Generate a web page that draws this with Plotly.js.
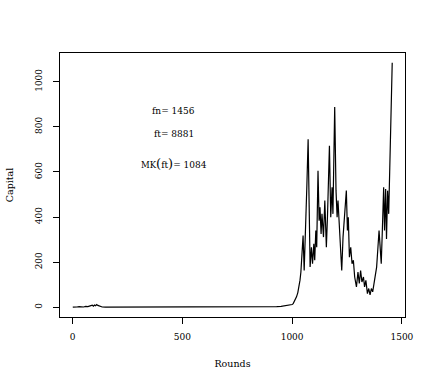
<!DOCTYPE html>
<html>
<head>
<meta charset="utf-8">
<script src="https://cdn.plot.ly/plotly-3.0.1.min.js"></script>
<style>html,body{margin:0;padding:0;background:#fff;}#chart{width:436px;height:382px;}</style>
</head>
<body>
<div id="chart"></div>
<script>
// Rounds (x) and Capital (y)
const rounds = [1, 10, 20, 30, 40, 50, 60, 70, 80, 90, 95, 100, 105, 110, 115, 120, 125, 135, 150, 200, 300, 400, 500, 600, 700, 800, 850, 900, 930, 950, 970, 985, 1000, 1005, 1012, 1020, 1026, 1031, 1036, 1040, 1046, 1050, 1055, 1061, 1067, 1073, 1077, 1082, 1088, 1093, 1099, 1103, 1108, 1112, 1118, 1123, 1127, 1132, 1136, 1143, 1149, 1156, 1161, 1164, 1170, 1176, 1182, 1186, 1194, 1200, 1205, 1209, 1215, 1220, 1226, 1232, 1238, 1247, 1252, 1256, 1261, 1267, 1273, 1279, 1285, 1293, 1300, 1306, 1312, 1318, 1325, 1330, 1336, 1343, 1349, 1355, 1361, 1367, 1373, 1379, 1385, 1391, 1396, 1400, 1406, 1411, 1417, 1421, 1426, 1430, 1435, 1440, 1444, 1449, 1453, 1456];
const capital = [0, 2, 1, 3, 2, 1, 4, 3, 6, 9, 5, 10, 7, 12, 8, 6, 3, 1, 0, 0, 0, 0, 0, 0, 0, 0, 1, 2, 3, 4, 6, 9, 12, 16, 28, 46, 65, 90, 120, 156, 266, 318, 163, 325, 532, 745, 384, 178, 266, 193, 281, 208, 340, 266, 605, 384, 443, 325, 414, 311, 473, 266, 400, 517, 716, 399, 532, 414, 888, 517, 399, 473, 340, 252, 163, 311, 399, 517, 340, 399, 222, 266, 193, 208, 134, 90, 156, 105, 163, 112, 134, 90, 119, 60, 83, 55, 83, 68, 105, 134, 178, 266, 340, 281, 193, 340, 532, 340, 524, 303, 517, 414, 561, 767, 950, 1084];

const xTicks = [0, 500, 1000, 1500];
const yTicks = [0, 200, 400, 600, 800, 1000];

const fnLabel = 'fn= 1456';
const ftLabel = 'ft= 8881';
const mkLabel = '<span style="font-size:8.5px">MK</span><span style="font-size:13px">(</span>ft<span style="font-size:13px">)</span>= 1084';
const labelX = 462;
const labelY = [870, 770, 638];

const font = 'DejaVu Serif';

const trace = {
  x: rounds, y: capital, type: 'scatter', mode: 'lines',
  line: {color: '#000', width: 1.2}, hoverinfo: 'skip'
};

const axisCommon = {
  showgrid: false, zeroline: false, showline: true, mirror: true,
  linecolor: '#000', linewidth: 1, ticks: 'outside', ticklen: 6,
  tickcolor: '#000', tickwidth: 1, tickfont: {family: font, size: 9, color: '#000'},
  automargin: false
};

const layout = {
  width: 436, height: 382,
  margin: {l: 60, r: 31, t: 53, b: 65},
  paper_bgcolor: '#fff', plot_bgcolor: '#fff',
  showlegend: false,
  xaxis: Object.assign({}, axisCommon, {
    range: [-57.2, 1514.2], tickvals: xTicks, ticktext: xTicks.map(String),
    ticklabelstandoff: 5,
    title: {text: 'Rounds', font: {family: font, size: 9.5, color: '#000'}, standoff: 19}
  }),
  yaxis: Object.assign({}, axisCommon, {
    range: [-43.4, 1127.4], tickvals: yTicks, ticktext: yTicks.map(String),
    tickangle: -90, ticklabelstandoff: 7,
    title: {text: 'Capital', font: {family: font, size: 9.5, color: '#000'}, standoff: 19}
  }),
  annotations: [
    {x: labelX, y: labelY[0], xref: 'x', yref: 'y', text: fnLabel, showarrow: false, font: {family: font, size: 9, color: '#000'}},
    {x: labelX, y: labelY[1], xref: 'x', yref: 'y', text: ftLabel, showarrow: false, font: {family: font, size: 9, color: '#000'}},
    {x: labelX, y: labelY[2], xref: 'x', yref: 'y', text: mkLabel, showarrow: false, font: {family: font, size: 9, color: '#000'}}
  ]
};

Plotly.newPlot('chart', [trace], layout, {staticPlot: true, displayModeBar: false});
</script>
</body>
</html>
